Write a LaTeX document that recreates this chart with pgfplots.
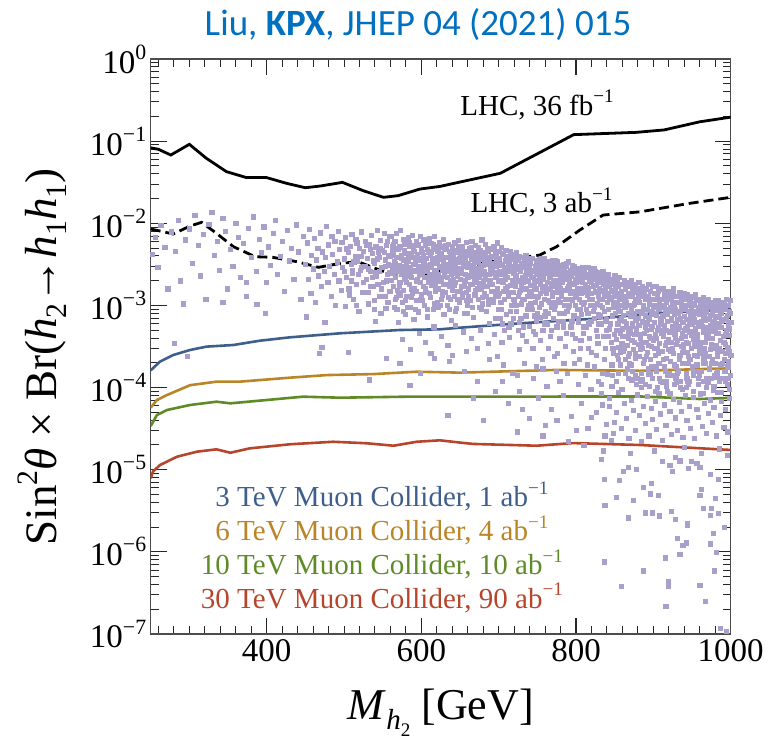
\documentclass[border=0pt]{standalone}
\usepackage{pgfplots}
\pgfplotsset{compat=1.18}
\usepackage{graphicx}
\usepackage{fontspec}
\setmainfont{Liberation Serif}
\newfontfamily\titlefont{Carlito}
\definecolor{titleblue}{HTML}{0070C0}
\definecolor{lav}{HTML}{A99FCB}
\definecolor{mcblue}{HTML}{3E5E8C}
\definecolor{mcorange}{HTML}{BA8526}
\definecolor{mcgreen}{HTML}{5E8B25}
\definecolor{mcred}{HTML}{B6452B}
\newcommand{\up}[1]{\raisebox{0.42em}{\scalebox{0.66}{#1}}}
\newcommand{\dn}[1]{\raisebox{-0.22em}{\scalebox{0.66}{#1}}}

\begin{document}
\begin{tikzpicture}
\path[use as bounding box] (-150.7pt,-116pt) rectangle (629.3pt,634pt);
\begin{axis}[
  at={(0pt,0pt)}, anchor=south west,
  scale only axis, width=580pt, height=575pt,
  xmin=250, xmax=1000, ymode=log, ymin=1e-7, ymax=1,
  xtick={400,600,800,1000}, xticklabels={400,600,800,1000},
  minor xtick={260,280,...,980},
  ytick={1e-7,1e-6,1e-5,1e-4,1e-3,1e-2,1e-1,1},
  yticklabels={10\up{−7},10\up{−6},10\up{−5},10\up{−4},10\up{−3},10\up{−2},10\up{−1},10\up{0}},
  minor ytick={2e-7,3e-7,4e-7,5e-7,6e-7,7e-7,8e-7,9e-7,
               2e-6,3e-6,4e-6,5e-6,6e-6,7e-6,8e-6,9e-6,
               2e-5,3e-5,4e-5,5e-5,6e-5,7e-5,8e-5,9e-5,
               2e-4,3e-4,4e-4,5e-4,6e-4,7e-4,8e-4,9e-4,
               2e-3,3e-3,4e-3,5e-3,6e-3,7e-3,8e-3,9e-3,
               2e-2,3e-2,4e-2,5e-2,6e-2,7e-2,8e-2,9e-2,
               0.2,0.3,0.4,0.5,0.6,0.7,0.8,0.9},
  tick align=inside,
  major tick length=16pt, minor tick length=8pt,
  major tick style={line width=1.1pt, black!85},
  minor tick style={line width=1pt, black!85},
  axis line style={line width=1.2pt, black!70},
  tick label style={font=\fontsize{33}{33}\selectfont},
  xticklabel style={yshift=-2pt},
  yticklabel style={xshift=-1pt},
]

% muon collider reaches
\addplot[mcblue, line width=2.6pt] coordinates {
 (250,1.62e-4) (262,2.07e-4) (279,2.49e-4) (301,2.87e-4) (322,3.15e-4) (357,3.30e-4)
 (391,3.72e-4) (430,4.09e-4) (495,4.58e-4) (572,5.02e-4) (624,5.12e-4) (650,5.36e-4)
 (727,6.05e-4) (831,6.97e-4) (900,8.02e-4) (1000,8.96e-4)};
\addplot[mcorange, line width=2.6pt] coordinates {
 (250,5.7e-5) (258,7.06e-5) (271,8.11e-5) (301,1.07e-4) (335,1.18e-4) (365,1.18e-4)
 (430,1.32e-4) (478,1.42e-4) (538,1.46e-4) (594,1.56e-4) (650,1.52e-4) (775,1.64e-4)
 (883,1.60e-4) (1000,1.72e-4)};
\addplot[mcgreen, line width=2.6pt] coordinates {
 (250,3.4e-5) (258,4.63e-5) (271,5.33e-5) (301,6.14e-5) (335,6.73e-5) (353,6.43e-5)
 (400,7.06e-5) (447,7.75e-5) (495,7.53e-5) (581,7.75e-5) (650,7.75e-5) (883,7.8e-5)
 (960,7.26e-5) (1000,7.5e-5)};
\addplot[mcred, line width=2.6pt] coordinates {
 (250,7.85e-6) (253,9.5e-6) (262,1.14e-5) (284,1.44e-5) (310,1.66e-5) (335,1.77e-5)
 (353,1.61e-5) (378,1.82e-5) (430,2.04e-5) (486,2.19e-5) (529,2.10e-5) (564,1.96e-5)
 (594,2.19e-5) (624,2.28e-5) (650,2.14e-5) (667,2.06e-5) (749,1.96e-5) (796,2.11e-5)
 (883,2.0e-5) (1000,1.74e-5)};

% scan points
\pgfplotsset{scanpts/.style={only marks, mark=square*, mark size=2.1pt, color=lav, mark options={draw=none}}}
\addplot[scanpts] coordinates {
 (252,4.2e-3) (256,6.8e-3) (259,2.9e-3) (263,9.5e-3) (268,5.1e-3) (272,1.6e-3) (276,7.9e-3) (280,3.5e-4)
 (282,4.6e-3) (286,1.1e-2) (288,2.0e-3) (292,1.05e-3) (295,6.3e-3) (297,2.4e-4) (300,8.6e-3) (304,3.3e-3)
 (307,1.25e-2) (311,5.4e-3) (314,2.3e-3) (318,7.4e-3) (321,1.2e-3) (325,9.8e-3) (329,1.35e-2) (332,4.1e-3)
 (336,6.0e-3) (339,2.7e-3) (343,1.15e-2) (346,8.1e-3) (349,1.6e-3) (353,4.8e-3) (356,3.0e-3) (360,1.0e-2)
 (363,6.7e-3) (366,2.2e-3) (370,5.7e-3) (373,1.3e-3) (376,8.8e-3) (380,3.9e-3) (383,1.2e-2) (386,2.6e-3)
 (390,6.4e-3) (393,4.4e-3) (396,9.1e-3) (399,1.9e-3) (402,5.2e-3) (405,3.1e-3) (408,7.6e-3) (411,1.1e-2)
 (414,2.4e-3) (417,4.0e-3) (420,6.1e-3) (423,1.5e-3) (426,8.3e-3) (429,3.5e-3) (432,5.0e-3) (435,2.1e-3)
 (438,9.6e-3) (441,4.5e-3) (444,1.2e-3) (447,6.9e-3) (343,1.1e-3) (398,8.1e-4) (387,1.04e-3) (374,1.9e-3)
 (450,3.2e-3) (451,7.3e-4) (452,5.8e-3) (454,2.1e-3) (455,8.4e-3) (457,1.4e-3) (458,4.1e-3) (460,2.8e-3)
 (461,6.6e-3) (463,1.1e-3) (464,3.6e-3) (466,5.0e-3) (467,2.3e-3) (469,7.7e-3) (470,1.7e-3) (471,3.1e-4)
 (472,4.5e-3) (474,2.6e-3) (475,6.3e-4) (476,3.9e-3) (477,9.2e-3) (479,1.9e-3) (480,5.5e-3) (481,3.0e-3)
 (483,1.3e-3) (484,7.0e-3) (485,4.2e-3) (487,2.4e-3) (488,6.1e-3) (489,1.0e-3) (491,3.4e-3) (492,8.0e-3)
 (493,2.0e-3) (494,4.8e-3) (496,1.55e-3) (497,5.9e-3) (498,2.9e-3) (500,3.7e-3) (501,9.8e-4) (502,6.8e-3)
 (503,2.2e-3) (505,2.7e-4) (505,4.4e-3) (506,1.6e-3) (508,5.3e-3) (509,3.2e-3) (510,7.4e-3) (511,2.5e-3)
 (512,1.2e-3) (514,4.0e-3) (515,6.4e-3) (516,1.8e-3) (517,3.5e-3) (519,8.6e-4) (520,5.0e-3) (521,2.7e-3)
 (522,7.9e-3) (524,1.45e-3) (525,4.6e-3) (526,3.0e-3) (527,6.0e-3) (529,2.1e-3) (530,3.8e-3) (531,1.05e-3)
 (532,5.6e-3) (534,2.6e-3) (535,7.2e-3) (536,4.3e-3) (537,1.7e-3) (539,3.3e-3) (540,6.5e-4) (541,5.2e-3)
 (542,2.3e-3) (543,8.3e-3) (545,3.9e-3) (546,1.3e-3) (547,6.2e-3) (548,2.9e-3) (549,4.7e-3) (551,1.9e-3)
 (552,7.5e-3) (553,3.6e-3) (554,9.3e-4) (555,5.4e-3) (556,2.4e-3) (557,4.1e-3) (558,6.9e-3) (559,1.5e-3)
 (560,3.1e-3) (468,2.6e-4) (533,1.25e-4) (555,2.3e-4) (572,2.0e-4) (585,1.07e-4) (598,1.5e-4) (617,2.3e-4)
 (500.5,2.6e-3) (503.5,4.9e-3) (506.5,1.35e-3) (509.5,2.0e-3) (512.5,3.4e-3) (515.5,1.0e-3) (518.5,2.4e-3) (521.5,4.0e-3)
 (524.5,1.9e-3) (527.5,3.0e-3) (530.5,1.45e-3) (533.5,4.8e-3) (536.5,2.2e-3) (539.5,1.15e-3) (542.5,3.7e-3) (545.5,2.6e-3)
 (548.5,1.6e-3) (551.5,4.4e-3) (554.5,2.0e-3) (557.5,3.2e-3) (531.5,2.8e-3) (537.5,3.5e-3) (543.5,1.8e-3) (549.5,2.9e-3)
 (552.5,1.3e-3) (555.5,6.0e-3) (558.5,2.5e-3) (546.5,5.0e-3) (540.5,2.5e-3) (534.5,1.7e-3) (528.5,5.5e-3) (522.5,2.9e-3)
 (516.5,5.8e-3) (510.5,2.7e-3) (547.5,8.0e-4) (556.5,1.1e-3) (559.5,4.0e-3) (553.5,3.0e-3) (544.5,4.5e-3) (538.5,0.9e-3)
};
\addplot[scanpts] coordinates {
 (561,6.9e-3) (562,2.9e-3) (563,4.4e-3) (564,1.7e-3) (564,5.6e-3) (565,3.4e-3) (566,1.2e-3) (566,2.2e-3)
 (567,7.6e-3) (568,3.9e-3) (568,9.0e-4) (569,2.6e-3) (569,4.9e-3) (570,1.45e-3) (570,6.2e-4)
 (571,3.1e-3) (572,5.2e-3) (572,1.9e-3) (573,8.2e-3) (574,2.4e-3) (574,4.1e-3) (575,1.1e-3) (576,6.4e-3)
 (576,3.6e-3) (577,1.55e-3) (578,2.8e-3) (578,4.7e-3) (579,7.8e-4) (579,2.1e-3) (580,5.9e-3) (580,3.3e-3) (575,3.9e-4)
 (581,1.3e-3) (581,4.3e-3) (582,2.5e-3) (583,6.7e-3) (583,3.7e-3) (584,1.8e-3) (585,5.3e-3) (585,2.9e-3)
 (586,9.6e-4) (587,4.0e-3) (587,2.2e-3) (588,7.2e-3) (588,1.4e-3) (589,3.2e-3) (589,5.0e-3) (590,2.6e-3) (590,6.8e-4) (586,2.9e-4)
 (591,4.6e-3) (591,1.6e-3) (592,3.5e-3) (593,2.0e-3) (593,6.1e-3) (594,1.15e-3) (595,2.7e-3) (595,4.2e-3)
 (596,8.4e-4) (596,5.5e-3) (597,3.0e-3) (598,1.9e-3) (598,7.0e-3) (599,2.4e-3) (599,3.8e-3) (600,1.35e-3) (600,5.0e-3) (597,4.6e-4)
 (601,2.8e-3) (601,4.4e-3) (602,1.7e-3) (603,6.3e-3) (603,3.3e-3) (604,1.0e-3) (604,2.2e-3) (605,5.4e-3)
 (606,3.8e-3) (606,1.45e-3) (607,2.6e-3) (608,4.8e-3) (608,7.3e-4) (609,3.1e-3) (609,1.9e-3) (610,6.6e-3) (610,2.3e-3) (605,3.6e-4)
 (611,4.1e-3) (611,1.25e-3) (612,2.9e-3) (613,5.7e-3) (613,1.75e-3) (614,3.6e-3) (615,2.1e-3) (615,8.9e-4)
 (616,4.9e-3) (617,2.6e-3) (617,6.9e-3) (618,1.5e-3) (618,3.3e-3) (619,2.0e-3) (619,5.2e-3) (620,1.1e-3) (620,3.9e-3) (616,5.5e-4) (612,2.6e-4)
 (621,2.4e-3) (621,4.6e-3) (622,1.6e-3) (623,3.0e-3) (623,5.9e-3) (624,1.0e-3) (625,3.7e-3) (625,2.0e-3)
 (626,4.3e-3) (627,1.35e-3) (627,2.7e-3) (628,6.4e-3) (628,3.4e-3) (629,1.8e-3) (629,7.8e-4) (630,2.3e-3) (630,5.0e-3) (626,4.2e-4)
 (631,3.2e-3) (631,1.45e-3) (632,4.8e-3) (633,2.2e-3) (633,1.0e-3) (634,3.9e-3) (635,2.6e-3) (635,5.6e-3)
 (636,1.7e-3) (637,3.4e-3) (637,1.2e-3) (638,4.4e-3) (638,2.0e-3) (639,6.6e-4) (639,2.9e-3) (640,1.55e-3) (640,5.2e-3) (634,3.3e-4) (636,2.1e-4)
 (641,2.5e-3) (641,4.0e-3) (642,1.3e-3) (643,3.1e-3) (643,5.8e-3) (644,1.9e-3) (645,3.6e-3) (645,9.2e-4)
 (646,2.3e-3) (647,4.7e-3) (647,1.5e-3) (648,2.8e-3) (648,6.2e-3) (649,1.1e-3) (649,3.4e-3) (650,2.1e-3) (650,4.3e-3) (644,5.8e-4)
 (651,1.7e-3) (651,3.8e-3) (652,2.6e-3) (653,5.3e-3) (653,1.25e-3) (654,3.0e-3) (655,2.0e-3) (655,4.5e-3)
 (656,8.0e-4) (657,2.4e-3) (657,3.5e-3) (658,1.45e-3) (658,5.9e-3) (659,2.9e-3) (659,1.0e-3) (660,4.1e-3) (660,2.2e-3) (654,4.8e-4) (658,2.8e-4)
 (661,3.3e-3) (661,1.6e-3) (662,4.9e-3) (663,2.3e-3) (663,1.15e-3) (664,3.7e-3) (665,2.7e-3) (665,6.0e-3)
 (666,1.8e-3) (667,3.1e-3) (667,7.2e-4) (668,4.4e-3) (668,2.0e-3) (669,1.35e-3) (669,3.9e-3) (670,2.5e-3) (670,5.4e-3) (664,4.0e-4)
 (671,1.9e-3) (671,4.2e-3) (672,2.8e-3) (673,1.2e-3) (673,5.1e-3) (674,3.4e-3) (675,2.2e-3) (675,9.5e-4)
 (676,4.7e-3) (677,1.6e-3) (677,3.0e-3) (678,2.4e-3) (678,6.3e-3) (679,1.05e-3) (679,3.7e-3) (680,2.0e-3) (680,4.4e-3) (676,5.0e-4) (672,3.0e-4)
 (681,2.6e-3) (681,1.4e-3) (682,3.9e-3) (683,2.1e-3) (683,5.6e-3) (684,8.6e-4) (685,3.2e-3) (685,1.7e-3)
 (686,4.6e-3) (687,2.4e-3) (687,1.2e-3) (688,3.5e-3) (688,6.1e-4) (689,2.0e-3) (689,5.0e-3) (690,2.9e-3) (690,1.5e-3) (686,3.5e-4)
 (691,4.0e-3) (691,1.8e-3) (692,2.7e-3) (693,1.1e-3) (693,5.3e-3) (694,3.3e-3) (695,2.2e-3) (695,7.0e-4)
 (696,4.3e-3) (697,1.5e-3) (697,3.0e-3) (698,2.5e-3) (698,5.8e-3) (699,1.3e-3) (699,3.6e-3) (700,2.0e-3) (700,4.6e-3) (694,4.5e-4) (698,2.4e-4)
 (634,4.6e-5) (655,1.6e-4) (672,1.2e-4) (688,2.2e-4) (695,9.0e-5) (640,2.5e-4) (667,7.4e-5) (680,4.0e-5)
};
\addplot[scanpts] coordinates {
 (701,3.8e-3) (701,1.4e-3) (702,2.4e-3) (703,5.1e-3) (703,9.0e-4) (704,3.1e-3) (705,1.9e-3) (705,6.0e-4)
 (706,4.2e-3) (707,2.7e-3) (707,1.2e-3) (708,3.5e-3) (708,2.1e-3) (709,1.6e-3) (709,4.7e-3) (710,2.9e-3) (710,7.8e-4) (704,3.6e-4) (706,1.9e-4)
 (711,2.2e-3) (711,4.0e-3) (712,1.3e-3) (713,3.3e-3) (713,5.4e-4) (714,2.6e-3) (715,1.75e-3) (715,4.5e-3)
 (716,1.0e-3) (717,3.0e-3) (717,2.0e-3) (718,3.7e-3) (718,1.45e-3) (719,7.0e-4) (719,2.5e-3) (720,4.2e-3) (720,1.15e-3) (714,4.1e-4)
 (721,3.2e-3) (721,1.7e-3) (722,2.3e-3) (723,4.4e-3) (723,8.5e-4) (724,2.8e-3) (725,1.3e-3) (725,3.6e-3)
 (726,2.0e-3) (727,4.0e-3) (727,6.3e-4) (728,1.55e-3) (728,2.6e-3) (729,3.3e-3) (729,1.05e-3) (730,2.2e-3) (730,4.3e-4) (726,2.9e-4) (724,1.4e-4)
 (731,3.9e-3) (731,1.9e-3) (732,2.9e-3) (733,1.2e-3) (733,3.4e-3) (734,2.3e-3) (735,7.5e-4) (735,4.1e-3)
 (736,1.6e-3) (737,2.6e-3) (737,3.1e-3) (738,1.0e-3) (738,2.0e-3) (739,3.7e-3) (739,5.6e-4) (740,1.4e-3) (740,2.4e-3) (736,3.7e-4)
 (741,3.3e-3) (741,1.75e-3) (742,2.2e-3) (743,9.0e-4) (743,3.8e-3) (744,1.3e-3) (745,2.7e-3) (745,4.9e-4)
 (746,1.9e-3) (747,3.0e-3) (747,1.1e-3) (748,2.4e-3) (748,6.6e-4) (749,3.5e-3) (749,1.6e-3) (750,2.0e-3) (750,8.0e-4) (744,3.0e-4) (748,1.8e-4)
 (751,3.0e-3) (751,1.3e-3) (752,2.3e-3) (753,3.6e-3) (753,7.2e-4) (754,1.8e-3) (755,2.7e-3) (755,1.05e-3)
 (756,3.3e-3) (757,1.5e-3) (757,5.0e-4) (758,2.1e-3) (758,2.9e-3) (759,1.2e-3) (759,3.7e-3) (760,1.7e-3) (760,8.6e-4) (754,3.8e-4) (756,2.2e-4)
 (761,2.5e-3) (761,1.4e-3) (762,3.4e-3) (763,1.9e-3) (763,6.0e-4) (764,2.8e-3) (765,1.1e-3) (765,3.1e-3)
 (766,2.2e-3) (767,1.6e-3) (767,4.2e-4) (768,2.6e-3) (768,9.5e-4) (769,3.5e-3) (769,1.3e-3) (770,2.0e-3) (770,7.0e-4) (764,3.0e-4)
 (771,3.2e-3) (771,1.7e-3) (772,2.4e-3) (773,1.0e-3) (773,2.9e-3) (774,1.45e-3) (775,5.5e-4) (775,3.4e-3)
 (776,2.0e-3) (777,1.2e-3) (777,2.6e-3) (778,8.0e-4) (778,3.0e-3) (779,1.6e-3) (779,4.0e-4) (780,2.2e-3) (780,1.1e-3) (776,2.6e-4) (774,1.6e-4)
 (781,2.8e-3) (781,1.3e-3) (782,1.9e-3) (783,3.2e-3) (783,6.5e-4) (784,2.3e-3) (785,1.0e-3) (785,2.7e-3)
 (786,1.55e-3) (787,3.0e-3) (787,4.6e-4) (788,2.1e-3) (788,8.5e-4) (789,1.2e-3) (789,2.5e-3) (790,1.7e-3) (790,3.4e-3) (786,3.2e-4) (784,2.0e-4)
 (791,2.0e-3) (791,1.0e-3) (792,2.7e-3) (793,1.4e-3) (793,5.5e-4) (794,2.3e-3) (795,3.1e-3) (795,1.15e-3)
 (796,1.8e-3) (797,7.5e-4) (797,2.5e-3) (798,1.5e-3) (798,3.0e-3) (799,2.1e-3) (799,4.0e-4) (800,1.25e-3) (800,2.8e-3) (796,2.8e-4)
 (801,2.3e-3) (801,9.0e-4) (802,1.6e-3) (803,2.7e-3) (803,6.2e-4) (804,1.2e-3) (805,2.0e-3) (805,3.0e-4)
 (806,2.5e-3) (807,1.4e-3) (807,7.8e-4) (808,1.9e-3) (808,2.9e-3) (809,1.05e-3) (809,4.6e-4) (810,2.2e-3) (810,1.5e-3) (806,3.8e-4) (804,2.2e-4)
 (811,2.6e-3) (811,1.1e-3) (812,1.8e-3) (813,5.5e-4) (813,2.3e-3) (814,1.35e-3) (815,8.0e-4) (815,2.9e-3)
 (816,1.6e-3) (817,2.0e-3) (817,4.0e-4) (818,1.0e-3) (818,2.5e-3) (819,1.4e-3) (819,6.5e-4) (820,1.9e-3) (820,2.7e-4) (816,3.0e-4) (814,1.9e-4)
 (821,2.4e-3) (821,1.2e-3) (822,1.7e-3) (823,7.0e-4) (823,2.1e-3) (824,9.5e-4) (825,2.6e-3) (825,1.45e-3)
 (826,5.0e-4) (827,1.9e-3) (827,1.05e-3) (828,2.3e-3) (828,3.5e-4) (829,1.3e-3) (829,7.8e-4) (830,1.6e-3) (830,2.0e-3) (826,2.5e-4)
 (831,2.2e-3) (831,1.0e-3) (832,1.5e-3) (833,6.0e-4) (833,2.5e-3) (834,1.2e-3) (835,1.8e-3) (835,4.2e-4)
 (836,8.5e-4) (837,2.0e-3) (837,1.35e-3) (838,3.0e-4) (838,1.6e-3) (839,2.3e-3) (839,6.8e-4) (840,1.1e-3) (840,1.9e-3) (836,2.2e-4) (834,1.5e-4)
 (841,1.4e-3) (841,2.4e-3) (842,9.0e-4) (843,1.7e-3) (843,5.2e-4) (844,2.1e-3) (845,1.2e-3) (845,3.6e-4)
 (846,1.5e-3) (847,7.5e-4) (847,2.0e-3) (848,1.05e-3) (848,2.6e-4) (849,1.8e-3) (849,4.5e-4) (850,1.3e-3) (850,2.3e-3) (846,1.9e-4)
};
\addplot[scanpts] coordinates {
 (851,2.1e-3) (851,8.0e-4) (852,1.4e-3) (852,3.9e-4) (853,1.1e-3) (853,2.5e-4) (854,1.7e-3) (854,6.0e-4)
 (855,9.0e-4) (855,3.1e-4) (856,2.2e-3) (856,1.2e-3) (857,4.6e-4) (857,1.9e-4) (858,1.5e-3) (858,7.0e-4)
 (859,1.0e-3) (859,3.5e-4) (860,1.8e-3) (860,5.2e-4) (855,1.5e-4)
 (861,1.3e-3) (861,2.8e-4) (862,2.0e-3) (862,6.5e-4) (863,9.5e-4) (863,4.2e-4) (864,1.6e-3) (864,2.2e-4)
 (865,1.1e-3) (865,5.5e-4) (866,1.9e-3) (866,3.3e-4) (867,8.0e-4) (867,1.3e-4) (868,1.4e-3) (868,4.8e-4)
 (869,1.0e-3) (869,2.6e-4) (870,1.7e-3) (870,7.5e-4) (866,1.7e-4)
 (871,2.0e-3) (871,9.0e-4) (872,3.8e-4) (872,1.3e-3) (873,6.0e-4) (873,1.6e-4) (874,1.5e-3) (874,2.9e-4)
 (875,1.05e-3) (875,4.5e-4) (876,1.8e-3) (876,7.0e-4) (877,2.3e-4) (877,1.2e-3) (878,5.2e-4) (878,1.1e-4)
 (879,1.6e-3) (879,8.5e-4) (880,3.4e-4) (880,1.25e-3) (876,1.4e-4)
 (881,1.9e-3) (881,5.8e-4) (882,1.1e-3) (882,2.4e-4) (883,1.5e-3) (883,4.0e-4) (884,8.0e-4) (884,1.5e-4)
 (885,1.3e-3) (885,3.0e-4) (886,1.7e-3) (886,6.5e-4) (887,9.5e-4) (887,2.0e-4) (888,1.4e-3) (888,4.6e-4)
 (889,1.1e-4) (889,7.5e-4) (890,1.2e-3) (890,3.6e-4) (886,1.25e-4)
 (891,1.6e-3) (891,5.0e-4) (892,9.0e-4) (892,2.7e-4) (893,1.3e-3) (893,1.7e-4) (894,6.8e-4) (894,1.8e-3)
 (895,4.2e-4) (895,1.05e-3) (896,2.2e-4) (896,1.5e-3) (897,7.8e-4) (897,3.2e-4) (898,1.2e-3) (898,1.3e-4)
 (899,5.6e-4) (899,1.7e-3) (900,9.5e-4) (900,3.8e-4) (895,1.05e-4)
 (901,1.4e-3) (901,6.2e-4) (902,2.5e-4) (902,1.0e-3) (903,1.7e-3) (903,4.0e-4) (904,1.6e-4) (904,8.0e-4)
 (905,1.25e-3) (905,3.0e-4) (906,5.4e-4) (906,1.5e-3) (907,2.0e-4) (907,9.0e-4) (908,1.1e-3) (908,3.5e-4)
 (909,7.0e-4) (909,1.2e-4) (910,1.6e-3) (910,4.6e-4) (905,1.0e-4)
 (911,1.2e-3) (911,2.8e-4) (912,7.5e-4) (912,1.6e-3) (913,4.2e-4) (913,1.0e-3) (914,1.8e-4) (914,5.8e-4)
 (915,1.4e-3) (915,3.3e-4) (916,8.5e-4) (916,1.2e-4) (917,1.1e-3) (917,2.3e-4) (918,6.4e-4) (918,1.5e-3)
 (919,3.9e-4) (919,9.0e-4) (920,1.3e-3) (920,1.5e-4) (916,5.0e-4)
 (921,1.5e-3) (921,4.8e-4) (922,9.5e-4) (922,2.1e-4) (923,1.2e-3) (923,6.6e-4) (924,3.0e-4) (924,1.4e-4)
 (925,1.05e-3) (925,5.2e-4) (926,1.6e-3) (926,2.6e-4) (927,7.8e-4) (927,1.1e-4) (928,1.3e-3) (928,4.0e-4)
 (929,6.0e-4) (929,1.8e-4) (930,1.1e-3) (930,3.4e-4) (925,8.5e-4)
 (931,1.3e-3) (931,3.8e-4) (932,8.0e-4) (932,1.6e-4) (933,1.1e-3) (933,5.5e-4) (934,2.5e-4) (934,1.45e-3)
 (935,7.0e-4) (935,1.2e-4) (936,9.5e-4) (936,3.2e-4) (937,1.25e-3) (937,4.6e-4) (938,2.0e-4) (938,6.2e-4)
 (939,1.0e-3) (939,2.9e-4) (940,1.4e-3) (940,5.0e-4) (935,1.0e-4)
 (941,1.2e-3) (941,4.2e-4) (942,6.8e-4) (942,1.5e-4) (943,1.0e-3) (943,2.7e-4) (944,1.35e-3) (944,5.6e-4)
 (945,3.5e-4) (945,8.5e-4) (946,1.2e-4) (946,1.15e-3) (947,4.8e-4) (947,2.2e-4) (948,7.5e-4) (948,1.3e-3)
 (949,3.0e-4) (949,9.0e-4) (950,1.8e-4) (950,6.0e-4) (945,1.1e-4)
 (951,1.25e-3) (951,3.9e-4) (952,7.0e-4) (952,1.4e-4) (953,1.0e-3) (953,2.5e-4) (954,5.2e-4) (954,1.35e-3)
 (955,8.5e-4) (955,3.2e-4) (956,1.15e-3) (956,1.9e-4) (957,6.2e-4) (957,4.4e-4) (958,9.5e-4) (958,1.1e-4)
 (959,2.8e-4) (959,1.2e-3) (960,5.6e-4) (960,7.8e-4) (955,1.6e-4)
 (961,1.1e-3) (961,3.6e-4) (962,6.4e-4) (962,1.6e-4) (963,9.0e-4) (963,2.6e-4) (964,1.25e-3) (964,4.8e-4)
 (965,7.5e-4) (965,1.2e-4) (966,1.0e-3) (966,3.0e-4) (967,5.4e-4) (967,2.0e-4) (968,8.2e-4) (968,1.15e-3)
 (969,4.0e-4) (969,1.3e-4) (970,6.8e-4) (970,9.5e-4) (965,2.3e-4)
 (971,1.2e-3) (971,4.4e-4) (972,7.0e-4) (972,1.7e-4) (973,9.8e-4) (973,2.9e-4) (974,5.8e-4) (974,1.1e-3)
 (975,3.4e-4) (975,1.3e-4) (976,8.5e-4) (976,2.2e-4) (977,1.05e-3) (977,4.9e-4) (978,6.4e-4) (978,1.05e-4)
 (979,3.0e-4) (979,9.0e-4) (980,1.15e-3) (980,5.2e-4) (975,2.0e-4)
 (981,1.0e-3) (981,3.3e-4) (982,6.0e-4) (982,1.5e-4) (983,8.8e-4) (983,2.4e-4) (984,1.15e-3) (984,4.6e-4)
 (985,7.2e-4) (985,1.2e-4) (986,9.6e-4) (986,3.8e-4) (987,5.4e-4) (987,1.9e-4) (988,8.0e-4) (988,1.1e-3)
 (989,2.8e-4) (989,6.6e-4) (990,4.2e-4) (990,1.3e-4) (985,1.0e-3)
 (991,1.1e-3) (991,3.6e-4) (992,6.8e-4) (992,1.6e-4) (993,9.0e-4) (993,2.6e-4) (994,5.0e-4) (994,1.2e-3)
 (995,7.6e-4) (995,1.1e-4) (996,1.0e-3) (996,3.1e-4) (997,5.8e-4) (997,2.1e-4) (998,8.4e-4) (998,4.3e-4)
 (999,1.15e-3) (999,1.4e-4) (1000,6.2e-4) (1000,2.5e-4) (996,1.8e-4)
};
% second pass of the scan, 560--1000 GeV
\addplot[scanpts] coordinates {
 (560.5,2.05e-3) (562.5,5.2e-3) (564.5,0.95e-3) (566.5,3.3e-3) (568.5,1.55e-3) (561.5,4.1e-3) (563.5,2.5e-3) (565.5,6.1e-3) (567.5,1.25e-3) (569.5,2.9e-3)
 (570.5,4.8e-3) (572.5,1.35e-3) (574.5,3.0e-3) (576.5,0.85e-3) (578.5,2.2e-3) (571.5,1.7e-3) (573.5,3.8e-3) (575.5,2.6e-3) (577.5,5.6e-3) (579.5,1.15e-3)
 (580.5,1.9e-3) (582.5,3.5e-3) (584.5,5.9e-3) (586.5,1.25e-3) (588.5,2.7e-3) (581.5,0.95e-3) (583.5,2.3e-3) (585.5,4.3e-3) (587.5,1.6e-3) (589.5,3.9e-3)
 (590.5,3.2e-3) (592.5,0.9e-3) (594.5,2.1e-3) (596.5,3.6e-3) (598.5,1.2e-3) (591.5,5.4e-3) (593.5,1.5e-3) (595.5,3.0e-3) (597.5,2.4e-3) (599.5,4.6e-3)
 (600.5,2.5e-3) (602.5,4.1e-3) (604.5,1.6e-3) (606.5,5.8e-3) (608.5,2.0e-3) (601.5,1.15e-3) (603.5,3.6e-3) (605.5,2.9e-3) (607.5,0.9e-3) (609.5,4.4e-3)
 (610.5,1.4e-3) (612.5,4.5e-3) (614.5,2.4e-3) (616.5,1.05e-3) (618.5,3.8e-3) (611.5,3.2e-3) (613.5,2.0e-3) (615.5,5.5e-3) (617.5,1.7e-3) (619.5,2.7e-3)
 (620.5,3.4e-3) (622.5,2.2e-3) (624.5,5.2e-3) (626.5,1.5e-3) (628.5,2.9e-3) (621.5,0.95e-3) (623.5,4.2e-3) (625.5,1.2e-3) (627.5,3.9e-3) (629.5,2.5e-3)
 (630.5,1.8e-3) (632.5,3.1e-3) (634.5,1.25e-3) (636.5,4.6e-3) (638.5,2.4e-3) (631.5,5.4e-3) (633.5,2.7e-3) (635.5,0.9e-3) (637.5,2.0e-3) (639.5,3.6e-3)
 (640.5,3.0e-3) (642.5,1.75e-3) (644.5,4.5e-3) (646.5,1.2e-3) (648.5,3.8e-3) (641.5,2.1e-3) (643.5,0.85e-3) (645.5,2.6e-3) (647.5,5.3e-3) (649.5,1.5e-3)
 (650.5,4.7e-3) (652.5,1.4e-3) (654.5,3.5e-3) (656.5,2.0e-3) (658.5,1.15e-3) (651.5,2.5e-3) (653.5,4.0e-3) (655.5,1.7e-3) (657.5,3.0e-3) (659.5,0.8e-3)
 (660.5,1.3e-3) (662.5,2.9e-3) (664.5,5.1e-3) (666.5,2.3e-3) (668.5,3.4e-3) (661.5,4.3e-3) (663.5,1.8e-3) (665.5,0.95e-3) (667.5,2.6e-3) (669.5,1.55e-3)
 (670.5,3.6e-3) (672.5,1.6e-3) (674.5,2.6e-3) (676.5,4.0e-3) (678.5,1.25e-3) (671.5,2.3e-3) (673.5,4.6e-3) (675.5,1.85e-3) (677.5,0.9e-3) (679.5,3.1e-3)
 (680.5,1.7e-3) (682.5,4.4e-3) (684.5,2.4e-3) (686.5,1.05e-3) (688.5,2.8e-3) (681.5,3.4e-3) (683.5,1.3e-3) (685.5,5.0e-3) (687.5,2.0e-3) (689.5,3.9e-3)
 (690.5,3.3e-3) (692.5,1.2e-3) (694.5,4.0e-3) (696.5,2.2e-3) (698.5,1.6e-3) (691.5,2.5e-3) (693.5,4.9e-3) (695.5,1.35e-3) (697.5,3.5e-3) (699.5,0.9e-3)
 (700.5,2.6e-3) (702.5,1.1e-3) (704.5,4.3e-3) (706.5,1.5e-3) (708.5,2.3e-3) (701.5,0.7e-3) (703.5,3.2e-3) (705.5,2.0e-3) (707.5,0.5e-3) (709.5,3.8e-3)
 (710.5,1.7e-3) (712.5,3.6e-3) (714.5,0.85e-3) (716.5,2.7e-3) (718.5,1.2e-3) (711.5,2.9e-3) (713.5,1.45e-3) (715.5,0.6e-3) (717.5,4.1e-3) (719.5,2.05e-3)
 (720.5,2.6e-3) (722.5,1.0e-3) (724.5,3.8e-3) (726.5,1.45e-3) (728.5,0.7e-3) (721.5,4.0e-3) (723.5,2.0e-3) (725.5,0.5e-3) (727.5,3.0e-3) (729.5,1.75e-3)
 (730.5,1.2e-3) (732.5,2.1e-3) (734.5,3.0e-3) (736.5,0.9e-3) (738.5,3.5e-3) (731.5,0.55e-3) (733.5,1.6e-3) (735.5,2.5e-3) (737.5,1.3e-3) (739.5,2.8e-3)
 (740.5,3.6e-3) (742.5,1.5e-3) (744.5,2.2e-3) (746.5,0.75e-3) (748.5,2.9e-3) (741.5,1.05e-3) (743.5,2.6e-3) (745.5,1.65e-3) (747.5,0.45e-3) (749.5,1.25e-3)
 (750.5,2.5e-3) (752.5,0.95e-3) (754.5,3.3e-3) (756.5,1.7e-3) (758.5,0.6e-3) (751.5,2.0e-3) (753.5,1.4e-3) (755.5,3.8e-3) (757.5,2.3e-3) (759.5,0.75e-3)
 (760.5,1.5e-3) (762.5,2.6e-3) (764.5,0.8e-3) (766.5,3.3e-3) (768.5,1.85e-3) (761.5,3.0e-3) (763.5,1.15e-3) (765.5,2.3e-3) (767.5,0.5e-3) (769.5,1.45e-3)
 (770.5,2.8e-3) (772.5,1.1e-3) (774.5,2.0e-3) (776.5,0.65e-3) (778.5,2.4e-3) (771.5,0.9e-3) (773.5,3.5e-3) (775.5,1.5e-3) (777.5,1.8e-3) (779.5,3.1e-3)
 (780.5,1.45e-3) (782.5,2.9e-3) (784.5,0.8e-3) (786.5,2.3e-3) (788.5,1.6e-3) (781.5,2.1e-3) (783.5,0.55e-3) (785.5,1.2e-3) (787.5,3.3e-3) (789.5,0.95e-3)
 (790.5,2.4e-3) (792.5,1.2e-3) (794.5,0.65e-3) (796.5,2.9e-3) (798.5,1.0e-3) (791.5,1.6e-3) (793.5,2.6e-3) (795.5,0.45e-3) (797.5,1.85e-3) (799.5,1.35e-3)
 (800.5,1.95e-3) (802.5,0.7e-3) (804.5,2.5e-3) (806.5,1.1e-3) (808.5,1.6e-3) (801.5,2.8e-3) (803.5,1.4e-3) (805.5,0.9e-3) (807.5,2.2e-3) (809.5,0.55e-3)
 (810.5,1.1e-3) (812.5,2.4e-3) (814.5,1.65e-3) (816.5,0.6e-3) (818.5,2.0e-3) (811.5,1.45e-3) (813.5,0.9e-3) (815.5,2.2e-3) (817.5,1.2e-3) (819.5,2.8e-3)
 (820.5,2.2e-3) (822.5,0.85e-3) (824.5,1.5e-3) (826.5,2.5e-3) (828.5,0.6e-3) (821.5,1.0e-3) (823.5,2.8e-3) (825.5,1.75e-3) (827.5,0.42e-3) (829.5,1.2e-3)
 (830.5,0.75e-3) (832.5,1.9e-3) (834.5,2.6e-3) (836.5,1.3e-3) (838.5,0.5e-3) (831.5,1.55e-3) (833.5,0.95e-3) (835.5,2.2e-3) (837.5,0.65e-3) (839.5,1.7e-3)
 (840.5,2.3e-3) (842.5,1.25e-3) (844.5,0.6e-3) (846.5,1.8e-3) (848.5,0.95e-3) (841.5,0.42e-3) (843.5,2.0e-3) (845.5,1.55e-3) (847.5,0.3e-3) (849.5,1.1e-3)
 (850.5,1.6e-3) (852.5,5.0e-4) (854.5,2.2e-4) (856.5,8.5e-4) (858.5,3.2e-4) (851.5,1.2e-4) (853.5,1.9e-3) (855.5,6.6e-4) (857.5,1.3e-3) (859.5,4.2e-4) (853,9.5e-4) (857,2.7e-4)
 (860.5,1.0e-3) (862.5,3.0e-4) (864.5,6.0e-4) (866.5,1.3e-3) (868.5,2.0e-4) (861.5,7.6e-4) (863.5,1.5e-4) (865.5,1.75e-3) (867.5,4.0e-4) (869.5,5.2e-4) (863,1.15e-3) (867,2.4e-4)
 (870.5,4.6e-4) (872.5,1.6e-3) (874.5,8.0e-4) (876.5,2.6e-4) (878.5,1.15e-3) (871.5,1.9e-4) (873.5,1.0e-3) (875.5,3.6e-4) (877.5,6.6e-4) (879.5,1.3e-4) (873,5.6e-4) (877,1.45e-3)
 (880.5,7.0e-4) (882.5,1.35e-3) (884.5,3.5e-4) (886.5,1.0e-3) (888.5,2.2e-4) (881.5,4.5e-4) (883.5,1.2e-4) (885.5,8.5e-4) (887.5,1.6e-3) (889.5,5.4e-4) (883,2.9e-4) (887,6.2e-4)
 (890.5,2.4e-4) (892.5,6.0e-4) (894.5,1.15e-3) (896.5,4.0e-4) (898.5,8.5e-4) (891.5,1.3e-3) (893.5,3.3e-4) (895.5,1.5e-4) (897.5,5.2e-4) (899.5,1.0e-3) (893,7.2e-4) (897,1.8e-4)
 (900.5,1.2e-3) (902.5,4.4e-4) (904.5,1.4e-3) (906.5,2.6e-4) (908.5,6.0e-4) (901.5,3.0e-4) (903.5,7.6e-4) (905.5,5.0e-4) (907.5,1.3e-4) (909.5,9.5e-4) (903,1.8e-4) (907,1.2e-3)
 (910.5,6.5e-4) (912.5,2.2e-4) (914.5,9.5e-4) (916.5,3.6e-4) (918.5,1.2e-3) (911.5,5.0e-4) (913.5,1.35e-3) (915.5,1.6e-4) (917.5,7.8e-4) (919.5,2.9e-4) (913,4.4e-4) (917,1.05e-4)
 (920.5,8.5e-4) (922.5,1.3e-3) (924.5,5.6e-4) (926.5,1.9e-4) (928.5,9.0e-4) (921.5,2.8e-4) (923.5,3.6e-4) (925.5,1.35e-3) (927.5,4.5e-4) (929.5,1.15e-4) (923,7.0e-4) (927,1.0e-3)
 (930.5,1.5e-4) (932.5,5.2e-4) (934.5,8.6e-4) (936.5,1.15e-3) (938.5,3.4e-4) (931.5,6.8e-4) (933.5,2.2e-4) (935.5,4.0e-4) (937.5,1.0e-3) (939.5,7.4e-4) (933,1.3e-3) (937,2.7e-4)
 (940.5,9.0e-4) (942.5,3.6e-4) (944.5,2.0e-4) (946.5,6.5e-4) (948.5,1.05e-3) (941.5,5.2e-4) (943.5,1.25e-3) (945.5,2.4e-4) (947.5,8.0e-4) (949.5,4.4e-4) (943,1.3e-4) (947,1.15e-3)
 (950.5,1.0e-3) (952.5,4.8e-4) (954.5,8.0e-4) (956.5,2.4e-4) (958.5,6.0e-4) (951.5,1.6e-4) (953.5,3.5e-4) (955.5,1.2e-3) (957.5,1.3e-4) (959.5,9.0e-4) (953,6.8e-4) (957,4.0e-4)
 (960.5,3.2e-4) (962.5,9.5e-4) (964.5,2.0e-4) (966.5,6.6e-4) (968.5,4.4e-4) (961.5,8.0e-4) (963.5,5.6e-4) (965.5,1.1e-3) (967.5,2.6e-4) (969.5,1.15e-4) (963,1.05e-3) (967,3.6e-4)
 (970.5,5.0e-4) (972.5,1.05e-3) (974.5,3.0e-4) (976.5,6.0e-4) (978.5,1.4e-4) (971.5,2.4e-4) (973.5,7.6e-4) (975.5,4.0e-4) (977.5,9.0e-4) (979.5,2.0e-4) (973,5.6e-4) (977,1.1e-3)
 (980.5,7.4e-4) (982.5,2.6e-4) (984.5,5.6e-4) (986.5,1.3e-4) (988.5,9.5e-4) (981.5,4.6e-4) (983.5,1.05e-3) (985.5,3.0e-4) (987.5,6.4e-4) (989.5,2.0e-4) (983,1.6e-4) (987,8.6e-4)
 (990.5,9.0e-4) (992.5,3.4e-4) (994.5,7.0e-4) (996.5,1.3e-4) (998.5,5.2e-4) (991.5,2.2e-4) (993.5,4.4e-4) (995.5,1.0e-3) (997.5,2.8e-4) (999.5,8.0e-4) (993,1.6e-4) (997,6.2e-4)
};
% sparse tail below the main band
\addplot[scanpts] coordinates {
 (705,1.2e-4) (712,6.5e-5) (718,1.5e-4) (726,9.0e-5) (733,2.0e-4) (739,4.2e-5) (745,1.3e-4) (751,7.5e-5)
 (757,1.7e-4) (762,1.05e-4) (768,5.5e-5) (772,2.4e-4) (779,1.2e-4) (783,8.0e-5) (789,1.5e-4) (794,4.5e-5)
 (798,2.0e-4) (803,1.1e-4) (807,6.5e-5) (812,1.4e-4) (815,3.2e-5) (819,9.5e-5) (823,1.8e-4) (826,5.0e-5)
 (829,1.2e-4) (833,8.5e-5) (837,2.6e-5) (840,1.45e-4) (843,6.0e-5) (846,1.05e-4) (849,3.8e-5) (724,2.9e-5)
 (760,3.5e-5) (790,2.2e-5) (810,2.0e-5) (835,1.7e-5) (730,5.5e-5) (775,4.0e-5) (800,3.0e-5) (845,2.3e-5)
 (820,4.4e-5) (757,2.6e-5)
 (833,1.1e-4) (847,1.4e-4) (859,9.5e-5) (872,1.25e-4) (884,1.0e-4) (893,1.45e-4) (903,9.0e-5) (912,1.15e-4)
 (921,8.5e-5) (929,1.3e-4) (937,9.5e-5) (944,1.2e-4) (952,9.0e-5) (959,1.4e-4) (964,8.6e-5) (971,1.15e-4)
 (977,9.2e-5) (982,1.35e-4) (988,8.8e-5) (993,1.2e-4) (998,9.5e-5) (942,1.0e-4) (918,1.4e-4) (968,1.0e-4)
 (834,6.2e-5) (839,3.6e-5) (843,7.5e-5) (848,2.8e-5) (852,5.0e-5) (855,8.8e-5) (858,3.2e-5) (862,6.5e-5)
 (865,4.2e-5) (868,2.4e-5) (871,7.0e-5) (874,5.3e-5) (876,3.0e-5) (879,8.2e-5) (882,4.6e-5) (884,2.2e-5)
 (887,6.0e-5) (889,3.7e-5) (892,7.8e-5) (894,2.6e-5) (897,5.6e-5) (899,4.1e-5) (902,6.8e-5) (904,3.1e-5)
 (907,8.6e-5) (909,4.8e-5) (911,2.3e-5) (914,6.2e-5) (916,3.5e-5) (918,9.0e-5) (921,5.1e-5) (923,2.7e-5)
 (926,7.2e-5) (928,4.3e-5) (931,3.0e-5) (933,6.6e-5) (936,5.2e-5) (938,2.5e-5) (941,8.0e-5) (943,4.0e-5)
 (946,6.0e-5) (948,3.2e-5) (951,7.6e-5) (953,2.4e-5) (956,5.4e-5) (958,4.4e-5) (961,8.4e-5) (963,3.4e-5)
 (966,6.4e-5) (968,2.8e-5) (971,4.9e-5) (973,7.0e-5) (976,3.8e-5) (978,5.8e-5) (981,2.6e-5) (983,8.8e-5)
 (986,4.6e-5) (988,6.8e-5) (991,3.3e-5) (993,5.5e-5) (996,2.9e-5) (998,7.4e-5) (985,1.8e-5) (962,1.6e-5)
 (940,1.9e-5) (901,1.7e-5) (870,1.6e-5) (995,1.5e-5)
 (833,1.35e-5) (836,7.6e-6) (856,7.4e-6) (861,9.7e-6) (867,1.07e-5) (878,1.02e-5) (887,6.1e-6) (897,6.9e-6)
 (896,5.1e-6) (906,4.9e-6) (911,1.26e-5) (921,1.14e-5) (924,9.7e-6) (928,1.42e-5) (934,1.29e-5) (945,1.05e-5)
 (949,1.26e-5) (956,1.2e-5) (960,1.07e-5) (962,5.8e-6) (960,4.9e-6) (973,8.9e-6) (984,7.6e-6) (980,4.5e-6)
 (975,3.4e-6) (984,2.95e-6) (992,2.0e-6) (837,3.7e-6) (852,4.6e-6) (874,4.3e-6) (889,3.0e-6) (898,3.0e-6)
 (908,2.75e-6) (923,3.1e-6) (928,2.5e-6) (944,2.1e-6) (964,3.4e-6) (973,2.8e-6) (867,2.6e-6)
 (836,7.6e-7) (887,5.9e-7) (858,3.8e-7) (919,4.4e-7) (919,3.8e-7) (916,2.2e-7) (960,3.9e-7) (967,2.5e-7)
 (979,5.9e-7) (986,1.17e-7) (994,1.07e-7) (915,8.5e-7) (934,9.3e-7) (942,1.29e-6) (938,1.2e-6) (931,1.48e-6)
 (944,2.2e-6) (981,1.0e-6) (974,1.26e-6) (977,1.7e-6)
};

% LHC limits
\addplot[black, line width=2.8pt] coordinates {
 (250,0.083) (260,0.0796) (276,0.0678) (300,0.0915) (322,0.0618) (348,0.0425) (373,0.0362)
 (399,0.0362) (426,0.0306) (450,0.0271) (469,0.0284) (498,0.0315) (525,0.0249) (551,0.0207)
 (570,0.0217) (598,0.0261) (624,0.0281) (650,0.0318) (702,0.0406) (797,0.120) (878,0.128)
 (914,0.137) (960,0.172) (1000,0.196)};
\addplot[black, line width=2.8pt, dash pattern=on 10pt off 5pt] coordinates {
 (250,0.0085) (260,0.00813) (279,0.0074) (301,0.00927) (316,0.01028) (335,0.00755) (357,0.00519)
 (385,0.00392) (408,0.00385) (439,0.00341) (467,0.00291) (495,0.00325) (518,0.00341) (546,0.0027)
 (568,0.00228) (598,0.00228) (624,0.00263) (650,0.0029) (689,0.0034) (753,0.00411) (775,0.0052)
 (805,0.00828) (835,0.0126) (883,0.0138) (947,0.0175) (1000,0.0207)};

\node[anchor=base west, font=\fontsize{29}{29}\selectfont] at (axis cs:646,0.208) {LHC, 36 fb\up{−1}};
\node[anchor=base west, font=\fontsize{29}{29}\selectfont] at (axis cs:659,0.01345) {LHC, 3 ab\up{−1}};

\node[anchor=base, text=mcblue, font=\fontsize{29}{29}\selectfont] at (axis cs:549,3.52e-6) {3 TeV Muon Collider, 1 ab\up{−1}};
\node[anchor=base, text=mcorange, font=\fontsize{29}{29}\selectfont] at (axis cs:549,1.36e-6) {6 TeV Muon Collider, 4 ab\up{−1}};
\node[anchor=base, text=mcgreen, font=\fontsize{29}{29}\selectfont] at (axis cs:549,5.23e-7) {10 TeV Muon Collider, 10 ab\up{−1}};
\node[anchor=base, text=mcred, font=\fontsize{29}{29}\selectfont] at (axis cs:549,2.07e-7) {30 TeV Muon Collider, 90 ab\up{−1}};
\end{axis}

% titles and axis labels
\node[anchor=base, text=titleblue, font=\titlefont\fontsize{37}{37}\selectfont] at (267.3pt,598pt)
  {Liu, \textbf{KPX}, JHEP 04 (2021) 015};
\node[anchor=base, font=\fontsize{44}{44}\selectfont] at (290pt,-86pt)
  {\textit{M}\dn{\textit{h}\dn{2}} [GeV]};
\node[rotate=90, anchor=center, font=\fontsize{45}{45}\selectfont] at (-108.7pt,277pt)
  {Sin\up{2}\textit{θ} × Br(\textit{h}\dn{2}→\textit{h}\dn{1}\textit{h}\dn{1})};
\end{tikzpicture}
\end{document}
